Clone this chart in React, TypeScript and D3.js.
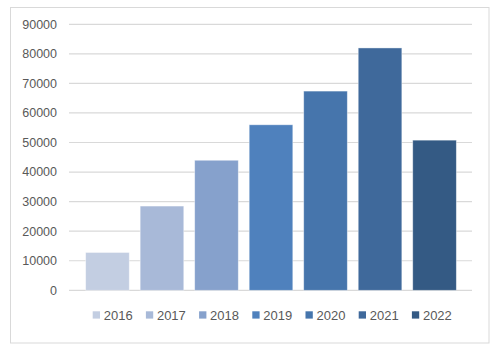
import React from "react";
import * as d3 from "d3";

const years = ["2016", "2017", "2018", "2019", "2020", "2021", "2022"];
const values = [12800, 28500, 44000, 56000, 67400, 82000, 50800];
const colors = ["#c3cee2", "#a8b9d8", "#86a1cc", "#4f81bd", "#4675ac", "#3f699b", "#345a84"];
const yTicks = [0, 10000, 20000, 30000, 40000, 50000, 60000, 70000, 80000, 90000];

const W = 500;
const H = 356;

export default function App() {
  const x = d3.scaleBand<string>().domain(years).range([80.2, 461.8]).paddingInner(0.2).paddingOuter(0.1);
  const y = d3.scaleLinear().domain([0, 90000]).range([290.3, 24.3]);
  const font = "'Liberation Sans', Arial, sans-serif";
  const legendStep = 53.2;
  const legendX0 = 92.7;
  return (
    <svg width={W} height={H} style={{ position: "absolute", left: 0, top: 0 }}>
      <rect x={0} y={0} width={W} height={H} fill="#fff" />
      <rect x={10.5} y={7.5} width={478.5} height={335.5} fill="#fff" stroke="#d9d9d9" strokeWidth={1} />
      {yTicks.map((t) => (
        <g key={t}>
          <line x1={69} x2={472} y1={y(t)} y2={y(t)} stroke="#d9d9d9" strokeWidth={1.2} />
          <text x={57} y={y(t)} dy="0.35em" textAnchor="end" fontFamily={font} fontSize={12.5} fill="#595959">
            {t}
          </text>
        </g>
      ))}
      {years.map((yr, i) => (
        <rect
          key={yr}
          x={x(yr)!}
          y={y(values[i])}
          width={x.bandwidth()}
          height={y(0) - y(values[i])}
          fill={colors[i]}
          stroke="#ffffff"
          strokeOpacity={0.5}
          strokeWidth={0.8}
        />
      ))}
      {years.map((yr, i) => (
        <g key={"l" + yr} transform={`translate(${legendX0 + i * legendStep},315)`}>
          <rect x={0} y={-3.7} width={7.3} height={7.3} fill={colors[i]} />
          <text x={11} y={0} dy="0.36em" fontFamily={font} fontSize={13} fill="#595959">
            {yr}
          </text>
        </g>
      ))}
    </svg>
  );
}
